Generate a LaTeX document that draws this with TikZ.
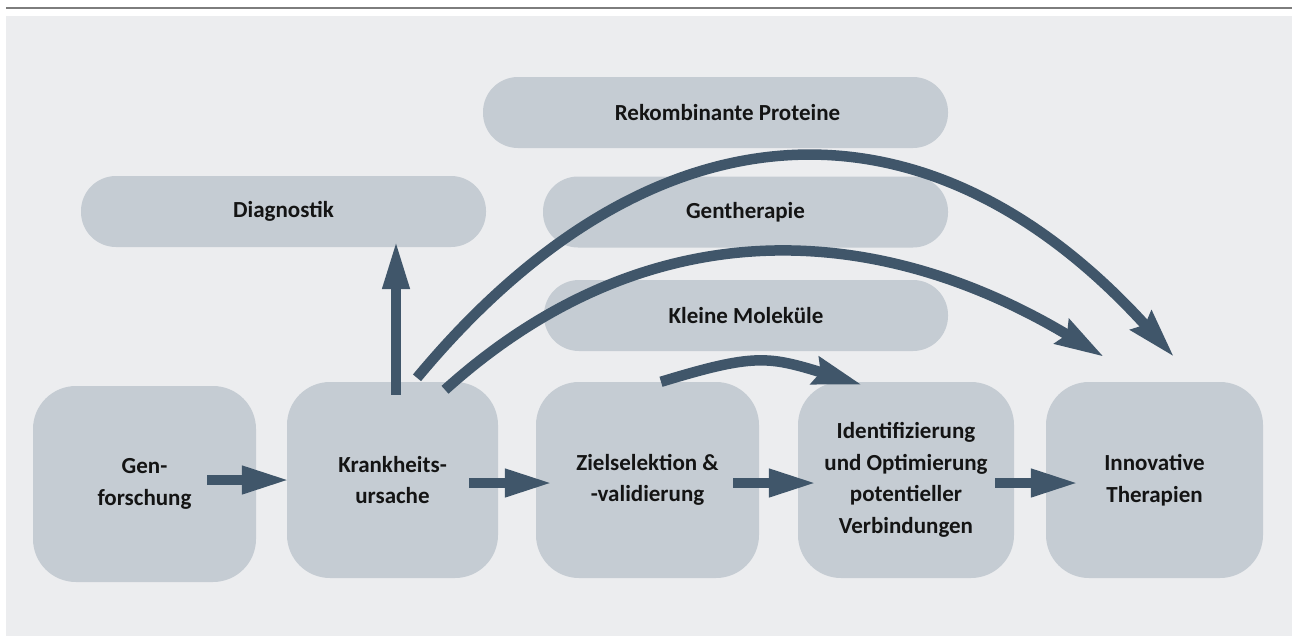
\documentclass[tikz,border=0pt]{standalone}
\usepackage{fontspec}
\setmainfont{Carlito}
\usetikzlibrary{arrows.meta,calc}
\definecolor{panelc}{RGB}{236,237,239}
\definecolor{boxc}{RGB}{197,204,211}
\definecolor{arrowc}{RGB}{64,86,106}
\definecolor{linec}{RGB}{125,125,125}
\definecolor{textc}{RGB}{20,20,20}
\begin{document}
\begin{tikzpicture}[x=1pt,y=-1pt,
  lbl/.style={align=center, text=textc, inner sep=0pt, font=\fontsize{23}{31.5}\selectfont\bfseries},
  bigbox/.style={lbl, fill=boxc, rounded corners=43pt, minimum width=#1, minimum height=196pt},
  pill/.style={lbl, fill=boxc, rounded corners=35pt, minimum width=#1, minimum height=71pt},
  flow/.style={draw=arrowc, line width=10pt, -{Triangle[length=48pt,width=26pt]}},
  curved/.style={draw=arrowc, line width=10.5pt, -{Stealth[length=48pt,width=27pt,inset=5pt]}}
]
\useasboundingbox (0,0) rectangle (1292,637);
\fill[white] (0,0) rectangle (1292,637);
\fill[panelc] (6,16) rectangle (1292,636);
\draw[linec, line width=2pt] (6,8) -- (1292,8);

% top pills
\node[pill=465pt] (rek) at (715.5,112.5) {\hspace*{24pt}Rekombinante Proteine};
\node[pill=405pt] (diag) at (283.5,211.5) {Diagnostik};
\node[pill=405pt] (gen) at (745.5,212) {Gentherapie};
\node[pill=404pt] (klein) at (746,315.5) {Kleine Moleküle};

% bottom row
\node[bigbox=223pt] (b1) at (144.5,484) {Gen-\\forschung};
\node[bigbox=211pt] (b2) at (392.5,480) {Krankheits-\\ursache};
\node[bigbox=223pt] (b3) at (647.5,480) {Zielselektion \&\\-validierung};
\node[bigbox=216pt] (b4) at (906,480) {Identifizierung\\und Optimierung\\potentieller\\Verbindungen};
\node[bigbox=217pt] (b5) at (1154.5,480) {Innovative\\Therapien};

% straight arrows
\draw[flow] ($(b1.east)+(-49,-4)$) -- ($(b2.west)+(3,0)$);
\draw[flow] ($(b2.east)+(-29,3)$) -- ($(b3.west)+(17,3)$);
\draw[flow] ($(b3.east)+(-26,3)$) -- ($(b4.west)+(19,3)$);
\draw[flow] ($(b4.east)+(-19,3)$) -- ($(b5.west)+(33,3)$);
\draw[flow, -{Triangle[length=49pt,width=25pt]}] ($(b2.north)+(3.5,13)$) -- ($(b2.north |- diag.south)+(3.5,-7)$);

% curved arrows
\draw[curved] ($(b2.north)+(24.5,-4)$) .. controls +(235.5,-283.4) and +(-246.6,-272.3) .. ($(b5.north)+(19.5,-25)$);
\draw[curved] ($(b2.north)+(52.5,8)$) .. controls +(200.2,-180.3) and +(-231,-138.8) .. ($(b5.north)+(-50.5,-25)$);
\draw[curved] ($(b3.north)+(13.5,0)$) .. controls +(93.7,-28.6) and +(-93.7,-28.6) .. ($(b4.north)+(-44,3)$);
\end{tikzpicture}
\end{document}
